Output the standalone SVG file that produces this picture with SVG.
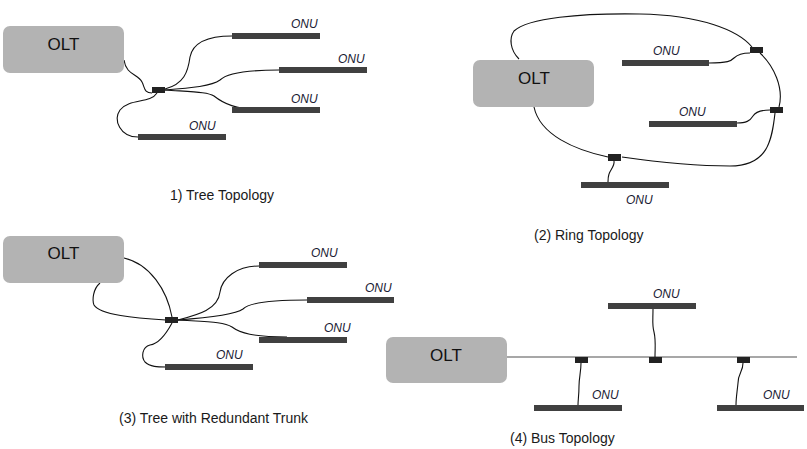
<svg xmlns="http://www.w3.org/2000/svg" width="807" height="449" viewBox="0 0 807 449">
<style>
.olt{fill:#b3b3b3}
.olt-t{font-family:"Liberation Sans",Arial,sans-serif;font-size:17px;fill:#111;text-anchor:middle}
.bar{fill:#404040}
.spl{fill:#222}
.lbl{font-family:"Liberation Sans",Arial,sans-serif;font-size:12px;font-style:italic;fill:#1a1a33}
.cap{font-family:"Liberation Sans",Arial,sans-serif;font-size:14px;fill:#1a1a1a}
.w{fill:none;stroke:#111;stroke-width:1.1}
.bus{fill:none;stroke:#8a8a8a;stroke-width:1.6}
</style>
<rect width="807" height="449" fill="#fff"/>

<!-- Panel 1 -->
<g id="p1-connectors">
<path class="w" d="M124,60 C126,75 138,74 142,82 C145,88 144,93 152,93"/>
<path class="w" d="M165,89 C184,84 188,72 190,57 C193,42 210,36 232,36"/>
<path class="w" d="M165,90 C192,88 212,86 220,80 C227,73 250,70 279,70"/>
<path class="w" d="M165,90 C195,92 208,92 214,96 C224,104 236,109 260,110"/>
<path class="w" d="M157,93 C150,104 130,98 120,110 C113,120 120,137 138,137"/>
</g>
<g id="p1-olt"><rect class="olt" x="3" y="26" width="121" height="47" rx="7"/><text class="olt-t" x="63.5" y="50">OLT</text></g>
<g id="p1-splitter"><rect class="spl" x="152" y="87" width="13" height="6"/></g>
<g id="p1-onu1"><rect class="bar" x="232" y="33" width="88" height="6"/><text class="lbl" x="291" y="28">ONU</text></g>
<g id="p1-onu2"><rect class="bar" x="279" y="67" width="88" height="6"/><text class="lbl" x="338" y="63">ONU</text></g>
<g id="p1-onu3"><rect class="bar" x="232" y="107" width="88" height="6"/><text class="lbl" x="291" y="103">ONU</text></g>
<g id="p1-onu4"><rect class="bar" x="138" y="134" width="88" height="6"/><text class="lbl" x="189" y="130">ONU</text></g>
<text class="cap" x="170" y="200">1) Tree Topology</text>

<!-- Panel 2 -->
<g id="p2-connectors">
<path class="w" d="M519,59 C510,50 509,38 514,31 C528,18 580,13 640,14 C700,15 738,30 752,47"/>
<path class="w" d="M760,53 C774,66 784,88 779,107"/>
<path class="w" d="M775,113 C772,140 768,166 730,166 C690,166 650,161 622,157"/>
<path class="w" d="M608,157 C575,150 540,135 534,107"/>
<path class="w" d="M709,63 C728,63 731,61 734,58 C738,54 742,53 750,53"/>
<path class="w" d="M737,123 C746,123 750,121 753,116 C756,111 762,110 770,110"/>
<path class="w" d="M614,161 C615,166 610,170 609,174 C608,177 608,180 608,182"/>
</g>
<g id="p2-olt"><rect class="olt" x="473" y="60" width="121" height="47" rx="7"/><text class="olt-t" x="534" y="84">OLT</text></g>
<g id="p2-splitter1"><rect class="spl" x="750" y="47" width="13" height="6"/></g>
<g id="p2-splitter2"><rect class="spl" x="770" y="107" width="13" height="6"/></g>
<g id="p2-splitter3"><rect class="spl" x="608" y="154" width="13" height="7"/></g>
<g id="p2-onu1"><rect class="bar" x="622" y="60" width="87" height="6"/><text class="lbl" x="653" y="55">ONU</text></g>
<g id="p2-onu2"><rect class="bar" x="649" y="121" width="88" height="6"/><text class="lbl" x="679" y="116">ONU</text></g>
<g id="p2-onu3"><rect class="bar" x="581" y="182" width="88" height="6"/><text class="lbl" x="626" y="204">ONU</text></g>
<text class="cap" x="534" y="240">(2) Ring Topology</text>

<!-- Panel 3 -->
<g id="p3-connectors">
<path class="w" d="M124,258 C150,264 167,290 172,317"/>
<path class="w" d="M100,283 C93,289 92,300 94,305 C100,315 135,318 166,320"/>
<path class="w" d="M178,320 C197,315 218,310 220,292 C222,278 237,266 259,266"/>
<path class="w" d="M178,320 C205,318 236,314 243,309 C250,302 275,300 307,300"/>
<path class="w" d="M178,320 C210,322 224,322 232,327 C240,333 253,337 287,337"/>
<path class="w" d="M172,323 C165,336 158,344 150,345 C142,347 141,357 145,362 C150,367 158,367 166,367"/>
</g>
<g id="p3-olt"><rect class="olt" x="3" y="236" width="121" height="47" rx="7"/><text class="olt-t" x="63.5" y="259">OLT</text></g>
<g id="p3-splitter"><rect class="spl" x="165" y="317" width="13" height="6"/></g>
<g id="p3-onu1"><rect class="bar" x="259" y="262" width="88" height="6"/><text class="lbl" x="311" y="257">ONU</text></g>
<g id="p3-onu2"><rect class="bar" x="307" y="297" width="87" height="6"/><text class="lbl" x="365" y="292">ONU</text></g>
<g id="p3-onu3"><rect class="bar" x="259" y="337" width="88" height="6"/><text class="lbl" x="324" y="332">ONU</text></g>
<g id="p3-onu4"><rect class="bar" x="165" y="364" width="88" height="6"/><text class="lbl" x="216" y="359">ONU</text></g>
<text class="cap" x="119" y="423">(3) Tree with Redundant Trunk</text>

<!-- Panel 4 -->
<g id="p4-connectors">
<path class="bus" d="M507,357 H797"/>
<path class="w" d="M653,309 C653,320 652,325 654,332 C656,340 655,348 655,357"/>
<path class="w" d="M581,363 C581,372 579,378 579,386 C579,395 578,400 578,405"/>
<path class="w" d="M743,363 C743,372 738,373 738,383 C737,393 736,398 736,405"/>
</g>
<g id="p4-olt"><rect class="olt" x="386" y="337" width="121" height="46" rx="7"/><text class="olt-t" x="446" y="361">OLT</text></g>
<g id="p4-splitter1"><rect class="spl" x="575" y="357" width="13" height="6"/></g>
<g id="p4-splitter2"><rect class="spl" x="649" y="357" width="13" height="6"/></g>
<g id="p4-splitter3"><rect class="spl" x="737" y="357" width="13" height="6"/></g>
<g id="p4-onu1"><rect class="bar" x="608" y="303" width="88" height="6"/><text class="lbl" x="653" y="298">ONU</text></g>
<g id="p4-onu2"><rect class="bar" x="534" y="405" width="88" height="6"/><text class="lbl" x="592" y="399">ONU</text></g>
<g id="p4-onu3"><rect class="bar" x="717" y="405" width="87" height="6"/><text class="lbl" x="763" y="399">ONU</text></g>
<text class="cap" x="510" y="443">(4) Bus Topology</text>
</svg>
